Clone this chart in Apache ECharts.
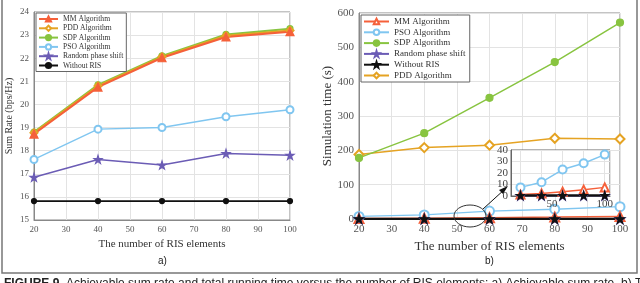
<!DOCTYPE html>
<html><head><meta charset="utf-8">
<script src="https://cdn.jsdelivr.net/npm/echarts@6/dist/echarts.min.js"></script>
<style>html,body{margin:0;padding:0;background:#fff}#c{width:640px;height:283px}</style>
</head><body><div id="c"></div>
<script>
// ---- data ----
const risElements = [20, 40, 60, 80, 100];
// a) Sum rate (bps/Hz)
const rateMM     = [18.72, 20.75, 22.02, 22.92, 23.15];
const ratePDD    = [18.77, 20.80, 22.06, 22.97, 23.20];
const rateSDP    = [18.80, 20.85, 22.10, 23.03, 23.28];
const ratePSO    = [17.62, 18.93, 19.00, 19.47, 19.77];
const rateRandom = [16.85, 17.62, 17.38, 17.88, 17.80];
const rateNoRIS  = [15.82, 15.82, 15.82, 15.82, 15.82];
// b) Simulation time (s)
const timeMM     = [1.2, 2.2, 3.8, 5.5, 7.5];
const timePSO    = [7.5, 12, 23, 28.5, 36];
const timeSDP    = [178, 250, 353, 457, 572];
const timeRandom = [0.3, 0.3, 0.3, 0.3, 0.3];
const timeNoRIS  = [0.5, 0.5, 0.5, 0.5, 0.5];
const timePDD    = [188, 208, 215, 235, 233];
const insetXTicks = [50, 100];

const C = {mm:'#f5603a', pdd:'#e5a323', sdp:'#88c440', pso:'#80c6f0', rnd:'#6b5cb5', no:'#111111'};
const STAR = 'path://M50,0 L61,35 L98,35 L68,57 L79,91 L50,70 L21,91 L32,57 L2,35 L39,35 Z';
const SERIF = '"Liberation Serif", "DejaVu Serif", serif';

function pairs(ys){ return risElements.map((x,i)=>[x, ys[i]]); }
function ser(name, ys, color, symbol, size, xi, yi, w){
  return {type:'line', name, data:pairs(ys), xAxisIndex:xi, yAxisIndex:yi,
    color, symbol, symbolSize:size, showSymbol:true,
    lineStyle:{color, width:w}, itemStyle:{color, borderColor:color, borderWidth:1.2},
    emphasis:{disabled:true}, animation:false, z: 3};
}
const axisLbl = (fs)=>({color:'#555', fontFamily:SERIF, fontSize:fs, margin:5});
const splitL = {show:true, lineStyle:{color:'#e3e3e3', width:1}};
const axLine = {show:true, onZero:false, lineStyle:{color:'#888', width:1}};

const chart = echarts.init(document.getElementById('c'), null, {renderer:'canvas'});
chart.setOption({
  animation:false,
  backgroundColor:'#fff',
  grid:[
    {left:34, right:350, top:12, bottom:63, show:true, borderColor:'#888', borderWidth:1, backgroundColor:'#fff'},
    {left:359, right:20, top:13, bottom:64, show:true, borderColor:'#888', borderWidth:1, backgroundColor:'#fff'},
    {left:511, right:30, top:150, bottom:87, show:true, borderColor:'#666', borderWidth:1, backgroundColor:'#fff', z:5}
  ],
  xAxis:[
    {type:'value', gridIndex:0, min:20, max:100, interval:10, axisLine:axLine, axisTick:{show:false},
     axisLabel:axisLbl(9), splitLine:splitL, name:'The number of RIS elements', nameLocation:'middle', nameGap:17,
     nameTextStyle:{fontFamily:SERIF, fontSize:11, color:'#333'}},
    {type:'value', gridIndex:1, min:20, max:100, interval:10, axisLine:axLine, axisTick:{show:false},
     axisLabel:axisLbl(11), splitLine:splitL, name:'The number of RIS elements', nameLocation:'middle', nameGap:20,
     nameTextStyle:{fontFamily:SERIF, fontSize:13, color:'#333'}},
    {type:'value', gridIndex:2, min:11, max:105, axisLine:{show:true, onZero:false, lineStyle:{color:'#666'}},
     axisTick:{show:false}, axisLabel:Object.assign(axisLbl(11), {customValues:insetXTicks, margin:3, color:'#444'}),
     splitLine:{show:true, lineStyle:{color:'#e3e3e3'}}, z:5}
  ],
  yAxis:[
    {type:'value', gridIndex:0, min:15, max:24, interval:1, axisLine:axLine, axisTick:{show:false},
     axisLabel:axisLbl(9), splitLine:splitL, name:'Sum Rate (bps/Hz)', nameLocation:'middle', nameGap:20,
     nameTextStyle:{fontFamily:SERIF, fontSize:10, color:'#333'}},
    {type:'value', gridIndex:1, min:0, max:600, interval:100, axisLine:axLine, axisTick:{show:false},
     axisLabel:axisLbl(11), splitLine:splitL, name:'Simulation time (s)', nameLocation:'middle', nameGap:24,
     nameTextStyle:{fontFamily:SERIF, fontSize:13, color:'#333'}},
    {type:'value', gridIndex:2, min:0, max:40, interval:10, axisLine:{show:true, onZero:false, lineStyle:{color:'#666'}},
     axisTick:{show:false}, axisLabel:Object.assign(axisLbl(11), {margin:3, color:'#444'}),
     splitLine:{show:true, lineStyle:{color:'#e3e3e3'}}, z:5}
  ],
  legend:[
    {orient:'vertical', left:36, top:13, padding:[2,3,2,2], itemGap:1.3, itemWidth:19, itemHeight:6.5,
     backgroundColor:'#fff', borderColor:'#666', borderWidth:1, borderRadius:0,
     textStyle:{fontFamily:SERIF, fontSize:7.6, lineHeight:7, color:'#333'},
     data:['MM Algorithm','PDD Algorithm','SDP Algorithm','PSO Algorithm','Random phase shift','Without RIS'],
     selectedMode:false, z:10},
    {orient:'vertical', left:361, top:15, padding:[2,2,2,2], itemGap:1.8, itemWidth:25, itemHeight:7,
     backgroundColor:'#fff', borderColor:'#666', borderWidth:1, borderRadius:0,
     textStyle:{fontFamily:SERIF, fontSize:9, lineHeight:7, color:'#333'},
     data:['MM Algorithm ','PSO Algorithm ','SDP Algorithm ','Random phase shift ','Without RIS ','PDD Algorithm '],
     selectedMode:false, z:10}
  ],
  series:[
    ser('Without RIS', rateNoRIS, C.no, 'circle', 5, 0, 0, 1.8),
    ser('Random phase shift', rateRandom, C.rnd, STAR, 8, 0, 0, 1.5),
    ser('PSO Algorithm', ratePSO, C.pso, 'emptyCircle', 7, 0, 0, 1.4),
    ser('SDP Algorithm', rateSDP, C.sdp, 'circle', 6, 0, 0, 2),
    ser('PDD Algorithm', ratePDD, C.pdd, 'emptyDiamond', 7, 0, 0, 2),
    ser('MM Algorithm', rateMM, C.mm, 'triangle', 8, 0, 0, 2),

    ser('PDD Algorithm ', timePDD, C.pdd, 'emptyDiamond', 9, 1, 1, 1.5),
    ser('SDP Algorithm ', timeSDP, C.sdp, 'circle', 7, 1, 1, 1.5),
    ser('PSO Algorithm ', timePSO, C.pso, 'emptyCircle', 9, 1, 1, 1.4),
    ser('MM Algorithm ', timeMM, C.mm, 'emptyTriangle', 9, 1, 1, 1.5),
    ser('Random phase shift ', timeRandom, C.rnd, STAR, 10, 1, 1, 1.5),
    ser('Without RIS ', timeNoRIS, C.no, STAR, 9, 1, 1, 2.2),

    Object.assign(ser('PSO-in', timePSO, C.pso, 'emptyCircle', 8, 2, 2, 1.5), {z:6}),
    Object.assign(ser('MM-in', timeMM, C.mm, 'emptyTriangle', 8, 2, 2, 1.5), {z:6}),
    Object.assign(ser('RND-in', timeRandom, C.rnd, STAR, 9, 2, 2, 1.5), {z:6}),
    Object.assign(ser('NO-in', timeNoRIS, C.no, STAR, 8, 2, 2, 2.2), {z:6})
  ],
  graphic:[
    {type:'rect', shape:{x:2, y:-1, width:635, height:274}, style:{fill:'none', stroke:'#777', lineWidth:1.5}, silent:true, z:0},
    {type:'text', left:158, top:256, style:{text:'a)', font:'10px "Liberation Sans", sans-serif', fill:'#222'}},
    {type:'text', left:485, top:256, style:{text:'b)', font:'10px "Liberation Sans", sans-serif', fill:'#222'}},
    {type:'text', left:4, top:278, style:{
      text:'{b|FIGURE 9.} Achievable sum rate and total running time versus the number of RIS elements: a) Achievable sum rate, b) Total',
      rich:{b:{font:'bold 12px "Liberation Sans", sans-serif', fill:'#222'}},
      font:'12px "Liberation Sans", sans-serif', fill:'#222'}},
    {type:'ellipse', shape:{cx:470, cy:216, rx:16, ry:11}, style:{fill:'none', stroke:'#333', lineWidth:1}, z:20},
    {type:'line', shape:{x1:483, y1:209, x2:505, y2:189}, style:{stroke:'#111', lineWidth:1}, z:20},
    {type:'polygon', shape:{points:[[508,186],[499,190],[503,194]]}, style:{fill:'#111'}, z:20}
  ]
});
</script></body></html>
